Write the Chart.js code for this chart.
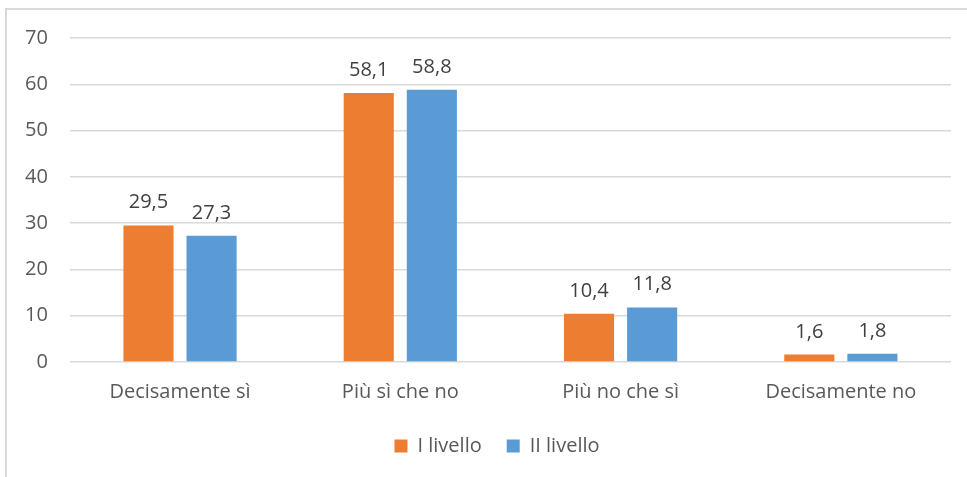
<!DOCTYPE html>
<html>
<head>
<meta charset="utf-8">
<script src="https://cdn.jsdelivr.net/npm/chart.js@4.4.0/dist/chart.umd.min.js"></script>
<style>
  html, body { margin: 0; padding: 0; background: #fff; overflow: hidden; }
  #frame { position: absolute; left: 5px; top: 8px; width: 1000px; height: 500px; border: 2px solid #d9d9d9; box-sizing: border-box; }
  #wrap { position: absolute; left: 0; top: 0; width: 967px; height: 477px; }
</style>
</head>
<body>
<div id="frame"></div>
<div id="wrap"><canvas id="chart"></canvas></div>
<script>
var categories = ['Decisamente sì', 'Più sì che no', 'Più no che sì', 'Decisamente no'];
var livello1 = [29.5, 58.1, 10.4, 1.6];
var livello2 = [27.3, 58.8, 11.8, 1.8];
var seriesNames = ['I livello', 'II livello'];
var yTicks = [0, 10, 20, 30, 40, 50, 60, 70];

var FONT = '"Open Sans", "Liberation Sans", sans-serif';

// value labels above bars, Italian decimal comma
var valueLabels = {
    id: 'valueLabels',
    afterDatasetsDraw: function (chart) {
        var ctx = chart.ctx;
        ctx.save();
        ctx.font = '20px ' + FONT;
        ctx.fillStyle = '#404040';
        ctx.textAlign = 'center';
        ctx.textBaseline = 'alphabetic';
        chart.data.datasets.forEach(function (ds, i) {
            chart.getDatasetMeta(i).data.forEach(function (bar, j) {
                ctx.fillText(ds.data[j].toFixed(1).replace('.', ','), bar.x, bar.y - 17);
            });
        });
        ctx.restore();
    }
};

// the legend in the original sits a bit right of the canvas centre
var shiftLegend = {
    id: 'shiftLegend',
    afterLayout: function (chart) {
        chart.legend.left += 20;
        chart.legend.right += 20;
    }
};

new Chart(document.getElementById('chart'), {
    type: 'bar',
    data: {
        labels: categories,
        datasets: [
            { label: seriesNames[0], data: livello1, backgroundColor: '#ed7d31', categoryPercentage: 0.573, barPercentage: 0.794 },
            { label: seriesNames[1], data: livello2, backgroundColor: '#5b9bd5', categoryPercentage: 0.573, barPercentage: 0.794 }
        ]
    },
    options: {
        responsive: true,
        maintainAspectRatio: false,
        animation: false,
        layout: { padding: { left: 3, right: 16, top: 38, bottom: 11 } },
        plugins: {
            legend: {
                position: 'bottom',
                labels: { boxWidth: 13, boxHeight: 13, padding: 25, color: '#595959', font: { family: FONT, size: 20 } }
            },
            tooltip: { enabled: false }
        },
        scales: {
            x: {
                grid: { display: false, drawTicks: false },
                border: { display: false },
                ticks: { color: '#595959', padding: 18, font: { family: FONT, size: 20 } },
                afterFit: function (axis) { axis.height -= 11; }
            },
            y: {
                min: 0, max: 70,
                afterBuildTicks: function (axis) { axis.ticks = yTicks.map(function (v) { return { value: v }; }); },
                grid: { color: '#d9d9d9', lineWidth: 1.5, drawTicks: false },
                border: { display: false },
                ticks: { color: '#595959', padding: 22, font: { family: FONT, size: 20 } }
            }
        }
    },
    plugins: [valueLabels, shiftLegend]
});
</script>
</body>
</html>
